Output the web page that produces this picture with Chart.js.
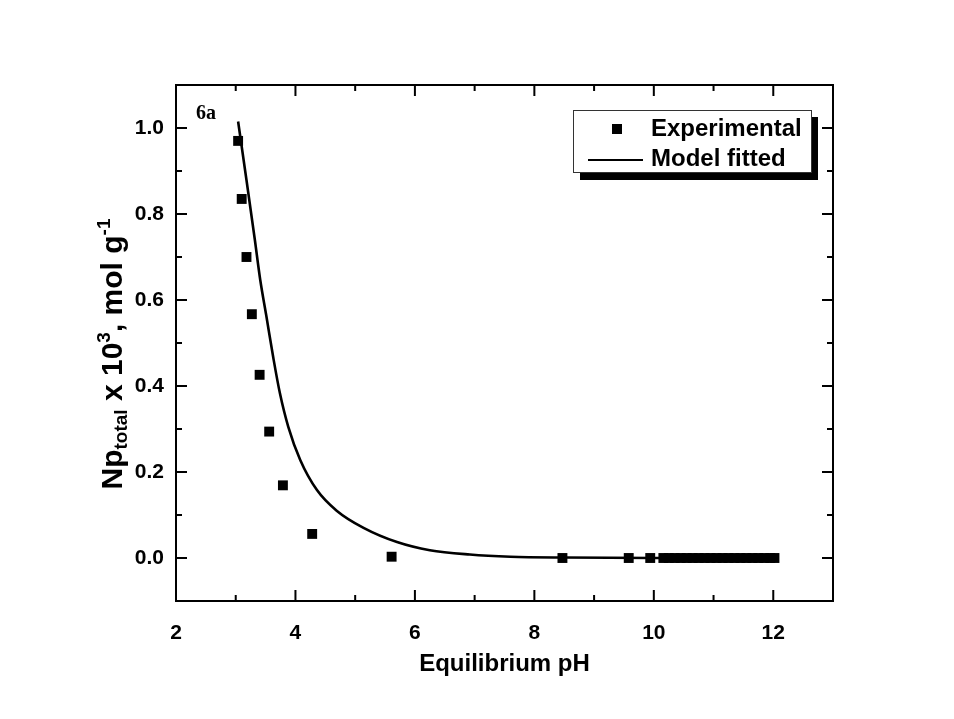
<!DOCTYPE html>
<html>
<head>
<meta charset="utf-8">
<script src="https://cdn.jsdelivr.net/npm/chart.js@4/dist/chart.umd.min.js"></script>
<style>
  html, body { margin: 0; padding: 0; background: #fff; }
  #wrap { width: 954px; height: 719px; }
</style>
</head>
<body>
<div id="wrap"><canvas id="canvas" width="954" height="719"></canvas></div>
<script>
// experimental points (pH, Np_total x 10^3)
var expX = [3.04, 3.10, 3.18, 3.27, 3.40, 3.56, 3.79, 4.28, 5.61, 8.47, 9.58, 9.94,
            10.16, 10.25, 10.35, 10.45, 10.55, 10.65, 10.75, 10.85, 10.95, 11.05,
            11.15, 11.25, 11.35, 11.45, 11.55, 11.65, 11.75, 11.85, 11.95, 12.02];
var expY = [0.97, 0.835, 0.70, 0.567, 0.426, 0.294, 0.169, 0.056, 0.003, 0.0, 0.0, 0.0,
            0, 0, 0, 0, 0, 0, 0, 0, 0, 0,
            0, 0, 0, 0, 0, 0, 0, 0, 0, 0];
// fitted model curve
var fitX = [3.04, 3.18, 3.32, 3.41, 3.51, 3.63, 3.74, 3.88, 4.08, 4.36, 4.69,
            5.14, 5.70, 6.25, 6.92, 7.6, 8.5, 10.0, 12.0];
var fitY = [1.015, 0.879, 0.740, 0.647, 0.565, 0.465, 0.383, 0.305, 0.228, 0.158, 0.110,
            0.070, 0.037, 0.018, 0.008, 0.003, 0.001, 0.0, 0.0];

var xTicks = [2, 4, 6, 8, 10, 12];
var xMinor = [3, 5, 7, 9, 11];
var yTicks = [0.0, 0.2, 0.4, 0.6, 0.8, 1.0];
var yMinor = [0.1, 0.3, 0.5, 0.7, 0.9];

var FONT = '"Liberation Sans", Arial, sans-serif';

function pts(xs, ys) {
  return xs.map(function(x, i) { return { x: x, y: ys[i] }; });
}

// frame, inward ticks on all four sides, titles, legend
var decor = {
  id: 'decor',
  afterDraw: function(chart) {
    var ctx = chart.ctx, a = chart.chartArea;
    var sx = chart.scales.x, sy = chart.scales.y;
    ctx.save();
    ctx.strokeStyle = '#000';
    ctx.lineWidth = 2;
    ctx.strokeRect(a.left, a.top, a.right - a.left, a.bottom - a.top);

    function xt(v, len) {
      var p = sx.getPixelForValue(v);
      ctx.beginPath();
      ctx.moveTo(p, a.bottom); ctx.lineTo(p, a.bottom - len);
      ctx.moveTo(p, a.top); ctx.lineTo(p, a.top + len);
      ctx.stroke();
    }
    function yt(v, len) {
      var p = sy.getPixelForValue(v);
      ctx.beginPath();
      ctx.moveTo(a.left, p); ctx.lineTo(a.left + len, p);
      ctx.moveTo(a.right, p); ctx.lineTo(a.right - len, p);
      ctx.stroke();
    }
    xTicks.forEach(function(v) { xt(v, 11); });
    xMinor.forEach(function(v) { xt(v, 6); });
    yTicks.forEach(function(v) { yt(v, 11); });
    yMinor.forEach(function(v) { yt(v, 6); });

    // x title
    ctx.fillStyle = '#000';
    ctx.font = 'bold 24px ' + FONT;
    ctx.textAlign = 'center';
    ctx.textBaseline = 'middle';
    ctx.fillText('Equilibrium pH', (a.left + a.right) / 2, 664);

    // y title with sub/superscripts
    ctx.save();
    ctx.translate(114, 354);
    ctx.rotate(-Math.PI / 2);
    var parts = [
      ['Np', 30, 0], ['total', 19, 5], [' x 10', 30, 0], ['3', 19, -12],
      [', mol g', 30, 0], ['-1', 19, -12]
    ];
    var w = 0;
    parts.forEach(function(p) { ctx.font = 'bold ' + p[1] + 'px ' + FONT; w += ctx.measureText(p[0]).width; });
    var cx = -w / 2;
    ctx.textAlign = 'left';
    ctx.textBaseline = 'alphabetic';
    parts.forEach(function(p) {
      ctx.font = 'bold ' + p[1] + 'px ' + FONT;
      ctx.fillText(p[0], cx, 8 + p[2]);
      cx += ctx.measureText(p[0]).width;
    });
    ctx.restore();

    // panel tag
    ctx.font = 'bold 20px "Liberation Serif", "Times New Roman", serif';
    ctx.textAlign = 'left';
    ctx.textBaseline = 'alphabetic';
    ctx.fillText('6a', 196, 119);

    // legend with drop shadow
    ctx.fillStyle = '#000';
    ctx.fillRect(580, 117, 238, 63);
    ctx.fillStyle = '#fff';
    ctx.fillRect(573, 110, 239, 63);
    ctx.strokeStyle = '#333';
    ctx.lineWidth = 1;
    ctx.strokeRect(573.5, 110.5, 238, 62);
    var ds = chart.data.datasets;
    ctx.fillStyle = '#000';
    ctx.fillRect(612, 124, 10, 10);
    ctx.strokeStyle = '#000';
    ctx.lineWidth = 2;
    ctx.beginPath(); ctx.moveTo(588, 160); ctx.lineTo(643, 160); ctx.stroke();
    ctx.font = 'bold 24px ' + FONT;
    ctx.textBaseline = 'middle';
    ctx.fillText(ds[0].label, 651, 129);
    ctx.fillText(ds[1].label, 651, 159);
    ctx.restore();
  }
};

var ctx = document.getElementById('canvas');
new Chart(ctx, {
  type: 'scatter',
  data: {
    datasets: [{
      label: 'Experimental',
      data: pts(expX, expY),
      pointStyle: 'rect',
      pointRadius: 7,
      pointHoverRadius: 7,
      backgroundColor: '#000',
      borderColor: '#000',
      borderWidth: 0
    }, {
      label: 'Model fitted',
      type: 'line',
      data: pts(fitX, fitY),
      showLine: true,
      pointRadius: 0,
      borderColor: '#000',
      borderWidth: 2.6,
      cubicInterpolationMode: 'monotone',
      fill: false
    }]
  },
  options: {
    responsive: false,
    animation: false,
    events: [],
    layout: { padding: { left: 0, right: 121, top: 85, bottom: 0 } },
    plugins: { legend: { display: false }, tooltip: { enabled: false } },
    scales: {
      x: {
        type: 'linear', min: 2, max: 13,
        grid: { display: false, drawTicks: false },
        border: { display: false },
        afterBuildTicks: function(s) { s.ticks = xTicks.map(function(v) { return { value: v }; }); },
        afterFit: function(s) { s.height = 118; },
        ticks: { color: '#000', font: { family: FONT, size: 21, weight: 'bold' }, padding: 20, maxRotation: 0 }
      },
      y: {
        type: 'linear', min: -0.1, max: 1.1,
        grid: { display: false, drawTicks: false },
        border: { display: false },
        afterBuildTicks: function(s) { s.ticks = yTicks.map(function(v) { return { value: v }; }); },
        afterFit: function(s) { s.width = 176; },
        ticks: { color: '#000', font: { family: FONT, size: 21, weight: 'bold' }, padding: 12,
                 callback: function(v) { return v.toFixed(1); } }
      }
    }
  },
  plugins: [decor]
});
</script>
</body>
</html>
